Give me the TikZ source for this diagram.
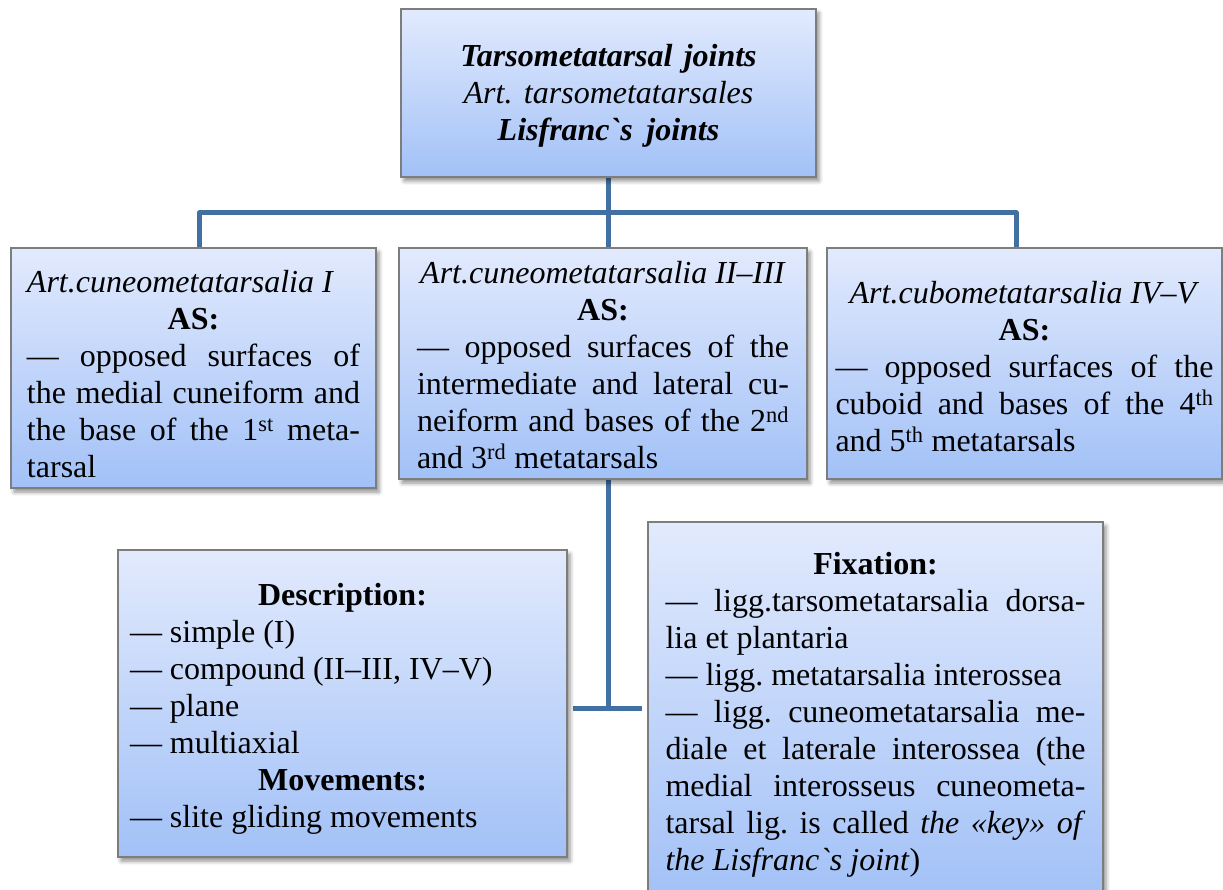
\documentclass[tikz,border=0pt]{standalone}
\usepackage{fontspec}
\setmainfont{Liberation Serif}[Ligatures=TeXOff]
\usetikzlibrary{shadows.blur,backgrounds}
\definecolor{boxtop}{RGB}{226,234,253}
\definecolor{boxbot}{RGB}{162,193,247}
\definecolor{boxline}{RGB}{125,125,125}
\definecolor{link}{RGB}{66,112,163}
% the font's own word spaces (stretchable), no extra space after stops
\newcommand\nsp{\spaceskip=0pt\relax\xspaceskip=0pt\relax\frenchspacing}
% a line stretched to the full width, and a centred line
\newcommand\jline[1]{\makebox[\linewidth][s]{\nsp #1}}
\newcommand\ctrline[1]{\makebox[\linewidth][c]{#1}}
% extra room above the first line
\newcommand\topgap[1]{\rule{0pt}{#1pt}}
\begin{document}
\begin{tikzpicture}[x=1pt,y=-1pt,
  box/.style={draw=boxline, line width=1.2pt, top color=boxtop, bottom color=boxbot,
    blur shadow={shadow xshift=3pt, shadow yshift=-4pt, shadow blur radius=4pt, shadow opacity=45},
    inner sep=0pt, align=left, font=\fontsize{32}{37}\selectfont},
  conn/.style={draw=link, line width=5pt, line join=round}]
\useasboundingbox (0,0) rectangle (1223,890);

% title
\node[box, align=center, minimum width=415pt, minimum height=168pt, text width=400pt]
  (top) at (608.5,93)
  {\nsp\topgap{28}\textbf{\textit{Tarsometatarsal joints}}\\
   \textit{Art. tarsometatarsales}\\
   \textbf{\textit{Lisfranc`s joints}}};

% the three joints
\node[box, minimum width=365pt, minimum height=240pt, text width=333pt]
  (b1) at (193.5,368)
  {\nsp\topgap{34}\textit{Art.cuneometatarsalia I}\\
   \ctrline{\textbf{AS:}}\\
   \jline{— opposed surfaces of}\\
   \jline{the medial cuneiform and}\\
   \jline{the base of the 1\textsuperscript{st} meta-}\\
   tarsal};

\node[box, minimum width=408pt, minimum height=231pt, text width=372pt]
  (b2) at (603,363.5)
  {\nsp\topgap{25}\ctrline{\textit{Art.cuneometatarsalia II–III}}\\
   \ctrline{\textbf{AS:}}\\
   \jline{— opposed surfaces of the}\\
   \jline{intermediate and lateral cu-}\\
   \jline{neiform and bases of the 2\textsuperscript{nd}}\\
   and 3\textsuperscript{rd} metatarsals};

\node[box, minimum width=395pt, minimum height=231pt, text width=378pt]
  (b3) at (1024.5,363.5)
  {\nsp\topgap{28}\ctrline{\textit{Art.cubometatarsalia IV–V}}\\
   \ctrline{\textbf{AS:}}\\
   \jline{— opposed surfaces of the}\\
   \jline{cuboid and bases of the 4\textsuperscript{th}}\\
   and 5\textsuperscript{th} metatarsals};

% description and fixation
\node[box, minimum width=449pt, minimum height=307pt, text width=425pt]
  (desc) at (342.5,703.5)
  {\nsp\topgap{32}\ctrline{\textbf{Description:}}\\
   — simple (I)\\
   — compound (II–III, IV–V)\\
   — plane\\
   — multiaxial\\
   \ctrline{\textbf{Movements:}}\\
   — slite gliding movements};

\node[box, minimum width=455pt, minimum height=377pt, text width=420pt]
  (fix) at (875.5,710.5)
  {\nsp\topgap{30}\ctrline{\textbf{Fixation:}}\\
   \jline{— ligg.tarsometatarsalia dorsa-}\\
   lia et plantaria\\
   — ligg. metatarsalia interossea\\
   \jline{— ligg. cuneometatarsalia me-}\\
   \jline{diale et laterale interossea (the}\\
   \jline{medial interosseus cuneometa-}\\
   \jline{tarsal lig. is called \textit{the «key» of}}\\
   \textit{the Lisfranc`s joint})};

% connectors
\coordinate (j1) at (199,213);
\coordinate (j2) at (608,213);
\coordinate (j3) at (1016,213);
\coordinate (j4) at (608,708);
\begin{scope}[on background layer]
  \draw[conn] (j2 |- top.south) -- (j2);
  \draw[conn] (j1 |- b1.north) -- (j1) -- (j3) -- (j3 |- b3.north);
  \draw[conn] (j2) -- (j2 |- b2.north);
  \draw[conn] (j4 |- b2.south) -- (j4);
  \draw[conn, shorten <=5pt, shorten >=5pt] (j4 -| desc.east) -- (j4 -| fix.west);
\end{scope}
\end{tikzpicture}
\end{document}
